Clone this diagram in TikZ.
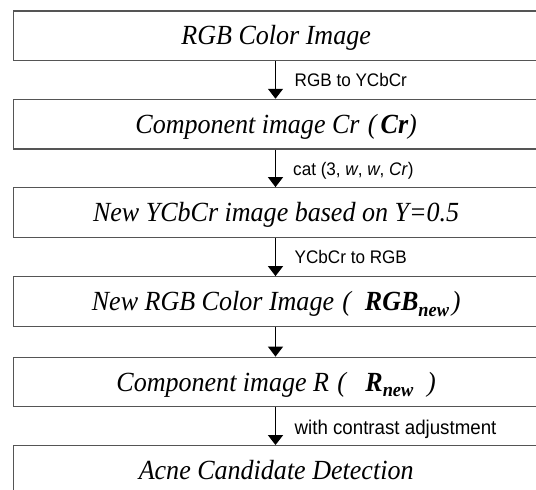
\documentclass[tikz,border=0pt]{standalone}
\usepackage{fontspec}
\usetikzlibrary{arrows.meta}
\newfontfamily\mainfont[FakeStretch=0.94]{Liberation Serif}
\newfontfamily\labfont[FakeStretch=0.94]{Liberation Sans}
\newcommand\maintxt{\mainfont\itshape\fontsize{27.7}{30}\selectfont}
\newcommand\labmid{\labfont\fontsize{18.2}{22}\selectfont}
\newcommand\labbig{\labfont\fontsize{19.9}{23}\selectfont}
\newcommand\bsub[1]{\raisebox{-0.2em}{\fontsize{19.5}{20}\selectfont\bfseries\itshape #1}}
\definecolor{boxgray}{HTML}{555555}
\tikzset{
  box/.style={draw=boxgray, line width=1.2pt, rectangle, inner sep=0pt,
    minimum width=525.7pt, minimum height=49.6pt,
    text height=18.3pt, text depth=0pt, font=\maintxt},
  lab/.style={anchor=base west, inner sep=0pt, font=\labmid},
  arr/.style={line width=1.4pt, -{Triangle[length=10pt,width=15pt]}}
}
\begin{document}
\begin{tikzpicture}[x=1pt,y=-1pt]
\useasboundingbox (0,0) rectangle (536,490);
\clip (0,0) rectangle (536,490);
\fill[white] (0,0) rectangle (536,490);
\node[box] (b1) at (276.15,35.75) {RGB Color Image};
\node[box] (b2) at (276.15,124.15) {Component image Cr\hspace{0.3em}(\hspace{0.15em}{\bfseries Cr})};
\node[box] (b3) at (276.15,212.5) {New YCbCr image based on Y=0.5};
\node[box] (b4) at (276.15,301.5) {New RGB Color Image\hspace{0.3em}(\hspace{0.5em}{\bfseries RGB}\bsub{new}\hspace{0.1em})};
\node[box] (b5) at (276.15,382) {Component image R\hspace{0.3em}(\hspace{0.7em}{\bfseries R}\bsub{new}\hspace{0.5em})};
\node[box] (b6) at (276.15,470.45) {Acne Candidate Detection};
\coordinate (ax) at (275.5,0);
\draw[arr] (b1.south -| ax) -- (b2.north -| ax);
\draw[arr] (b2.south -| ax) -- (b3.north -| ax);
\draw[arr] (b3.south -| ax) -- (b4.north -| ax);
\draw[arr] (b4.south -| ax) -- (b5.north -| ax);
\draw[arr] (b5.south -| ax) -- (b6.north -| ax);
\node[lab] (l1) at (294.5,86.5) {RGB to YCbCr};
\node[lab] (l2) at (293,175.5) {cat (3, \textit{w}, \textit{w}, \textit{Cr})};
\node[lab] (l3) at (294.5,263.5) {YCbCr to RGB};
\node[lab, font=\labbig] (l5) at (294.5,434.3) {with contrast adjustment};
\end{tikzpicture}
\end{document}
